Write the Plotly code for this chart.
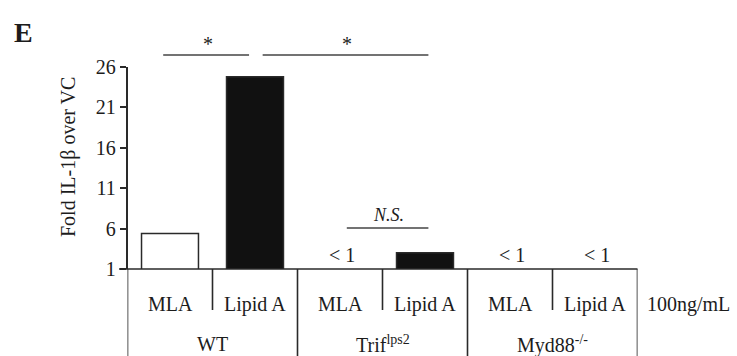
import plotly.graph_objects as go

# Data
treatments = ["MLA", "Lipid A", "MLA", "Lipid A", "MLA", "Lipid A"]
genotypes = ["WT", "Trif<sup>lps2</sup>", "Myd88<sup>-/-</sup>"]
fold_il1b = [5.4, 24.8, None, 3.0, None, None]   # None = below 1 (not drawn)
value_notes = ["", "", "< 1", "", "< 1", "< 1"]
bar_fill = ["white", "#111111", "white", "#111111", "white", "#111111"]
y_ticks = [1, 6, 11, 16, 21, 26]
dose_label = "100ng/mL"

W, H = 737, 356
FONT = "Liberation Serif, Times New Roman, serif"
INK = "#1c1c1c"
LINE = "#2a2a2a"


def py(p):
    """pixel row -> paper y"""
    return 1 - p / H


def label(x, y, text, size, xref="x", **kw):
    return dict(x=x, y=y, xref=xref, yref="paper", text=text, showarrow=False,
                xanchor="center", yanchor="middle",
                font=dict(size=size, color=INK, family=FONT), **kw)


x_idx = list(range(len(treatments)))
fig = go.Figure()
fig.add_trace(go.Bar(
    x=x_idx,
    y=[v if v is not None else 0 for v in fold_il1b],
    width=0.67,
    marker=dict(color=bar_fill, line=dict(color=LINE, width=1.5)),
    hoverinfo="skip",
))

shapes = []
# baseline / top of category table
shapes.append(dict(type="line", xref="paper", yref="paper",
                   x0=119 / W, x1=637.5 / W, y0=py(269), y1=py(269),
                   line=dict(color=LINE, width=1.6)))
# table separators: long ones between genotypes, short ones between treatments
for k in range(len(treatments) + 1):
    xv = k - 0.5
    long_line = (k % 2 == 0)
    shapes.append(dict(type="line", xref="x", yref="paper",
                       x0=xv, x1=xv, y0=py(269), y1=py(H if long_line else 310),
                       line=dict(color=LINE, width=1.6)))

# significance bars
sig = [(-0.08, 0.93, 55, "*"), (1.09, 3.04, 55, "*")]
for a, b, yp, t in sig:
    shapes.append(dict(type="line", xref="x", yref="paper", x0=a, x1=b,
                       y0=py(yp), y1=py(yp), line=dict(color="#444444", width=1.6)))
shapes.append(dict(type="line", xref="x", yref="paper", x0=2.08, x1=3.04,
                   y0=py(228), y1=py(228), line=dict(color="#444444", width=1.4)))

ann = []
for a, b, yp, t in sig:
    ann.append(label((a + b) / 2 + 0.02, py(44), t, 20))
ann.append(label(2.57, py(215), "<i>N.S.</i>", 18))

for i, note in enumerate(value_notes):
    if note:
        ann.append(label(i + 0.02, py(255), note, 20))

for i, t in enumerate(treatments):
    ann.append(label(i, py(304), t, 20))
for g, name in enumerate(genotypes):
    ann.append(label(2 * g + 0.5, py(344), name, 20))
ann.append(label(688 / W, py(304), dose_label, 20, xref="paper"))

# panel letter and axis title
ann.append(label(24 / W, py(32), "<b>E</b>", 28, xref="paper"))
ann.append(label(68 / W, py(157), "Fold IL-1β over VC", 20, xref="paper",
                 textangle=-90))

fig.update_layout(
    width=W, height=H,
    margin=dict(l=0, r=0, t=0, b=0),
    paper_bgcolor="white", plot_bgcolor="white",
    showlegend=False,
    shapes=shapes,
    annotations=ann,
    xaxis=dict(domain=[127.5 / W, 637.5 / W], range=[-0.5, 5.5],
               showticklabels=False, showgrid=False, zeroline=False,
               showline=False, ticks="", automargin=False),
    yaxis=dict(domain=[py(269), py(67)], range=[1, 26],
               tickvals=y_ticks, ticks="outside", ticklen=6, tickwidth=1.6,
               tickcolor=LINE, showline=True, linecolor=LINE, linewidth=1.6,
               showgrid=False, zeroline=False, automargin=False,
               tickfont=dict(size=20, color=INK, family=FONT)),
)

fig.write_html("out.html")
